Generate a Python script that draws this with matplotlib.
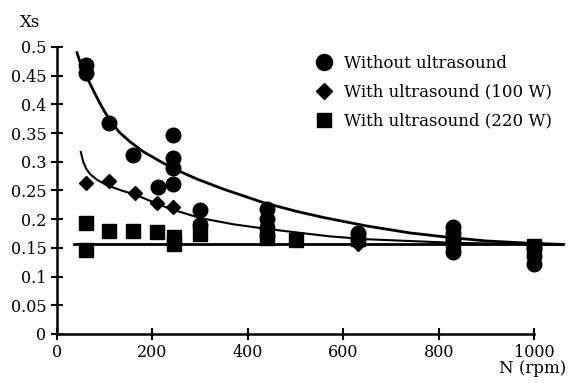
import matplotlib.pyplot as plt

plt.rcParams['font.family'] = 'DejaVu Serif'

# measured points
circle_x = [60, 60, 110, 160, 212, 243, 243, 243, 243, 300, 300, 440, 440, 440, 440, 630, 630, 830, 830, 830, 830, 1000, 1000, 1000]
circle_y = [0.468, 0.455, 0.368, 0.312, 0.256, 0.347, 0.307, 0.289, 0.262, 0.216, 0.19, 0.218, 0.2, 0.185, 0.17,
            0.176, 0.166, 0.186, 0.176, 0.166, 0.143, 0.15, 0.136, 0.122]

diamond_x = [60, 110, 163, 210, 243, 300, 440, 630, 830, 1000]
diamond_y = [0.263, 0.267, 0.245, 0.228, 0.221, 0.195, 0.19, 0.156, 0.165, 0.15]

square_x = [60, 60, 110, 160, 210, 245, 245, 300, 440, 500, 630, 830, 1000]
square_y = [0.193, 0.146, 0.179, 0.179, 0.178, 0.169, 0.157, 0.175, 0.168, 0.164, 0.165, 0.16, 0.153]

# fitted trend curves
fit1_x = [42, 50, 60, 70, 80, 90, 100, 110, 130, 153, 180, 222, 258, 293, 350, 432, 500, 558, 650, 740, 824, 900, 992, 1060]
fit1_y = [0.49, 0.47, 0.452, 0.435, 0.418, 0.402, 0.387, 0.374, 0.352, 0.335, 0.318, 0.298, 0.283, 0.27, 0.252,
          0.229, 0.214, 0.203, 0.188, 0.176, 0.168, 0.162, 0.158, 0.156]

fit2_x = [50, 55, 62, 70, 85, 105, 135, 163, 195, 237, 300, 370, 440, 572, 650, 824, 1000, 1060]
fit2_y = [0.317, 0.3, 0.287, 0.278, 0.268, 0.259, 0.25, 0.243, 0.232, 0.218, 0.202, 0.191, 0.183, 0.17, 0.165,
          0.159, 0.156, 0.155]

fit3_x = [36, 1060]
fit3_y = [0.157, 0.157]

fig = plt.figure(figsize=(5.75, 3.83), dpi=100)
ax = fig.add_axes([0.099, 0.128, 0.888, 0.757])

ax.plot(fit1_x, fit1_y, color='black', lw=2)
ax.plot(fit2_x, fit2_y, color='black', lw=1.5)
ax.plot(fit3_x, fit3_y, color='black', lw=2)

ax.plot(circle_x, circle_y, 'o', color='black', ms=10.5, label='Without ultrasound')
ax.plot(diamond_x, diamond_y, 'D', color='black', ms=7.5, label='With ultrasound (100 W)')
ax.plot(square_x, square_y, 's', color='black', ms=9.5, label='With ultrasound (220 W)')

ax.set_xlim(0, 1070)
ax.set_ylim(0, 0.505)
ax.spines['top'].set_visible(False)
ax.spines['right'].set_visible(False)
ax.spines['bottom'].set_bounds(0, 1000)
ax.spines['left'].set_bounds(0, 0.5)
ax.spines['bottom'].set_linewidth(1.8)
ax.spines['left'].set_linewidth(1.8)

ax.set_xticks([0, 200, 400, 600, 800, 1000])
ax.set_yticks([0, 0.05, 0.1, 0.15, 0.2, 0.25, 0.3, 0.35, 0.4, 0.45, 0.5])
ax.set_yticklabels(['0', '0.05', '0.1', '0.15', '0.2', '0.25', '0.3', '0.35', '0.4', '0.45', '0.5'])
ax.tick_params(direction='inout', length=9, width=1.5, labelsize=11.5, pad=3)

fig.text(0.035, 0.93, 'Xs', fontsize=12)
fig.text(0.985, 0.025, 'N (rpm)', fontsize=12, ha='right')

leg = ax.legend(loc='upper left', bbox_to_anchor=(0.475, 1.015), frameon=False, fontsize=12,
                handletextpad=0.6, labelspacing=0.72, handlelength=1.2, markerscale=1.1)

fig.savefig('out.png')
